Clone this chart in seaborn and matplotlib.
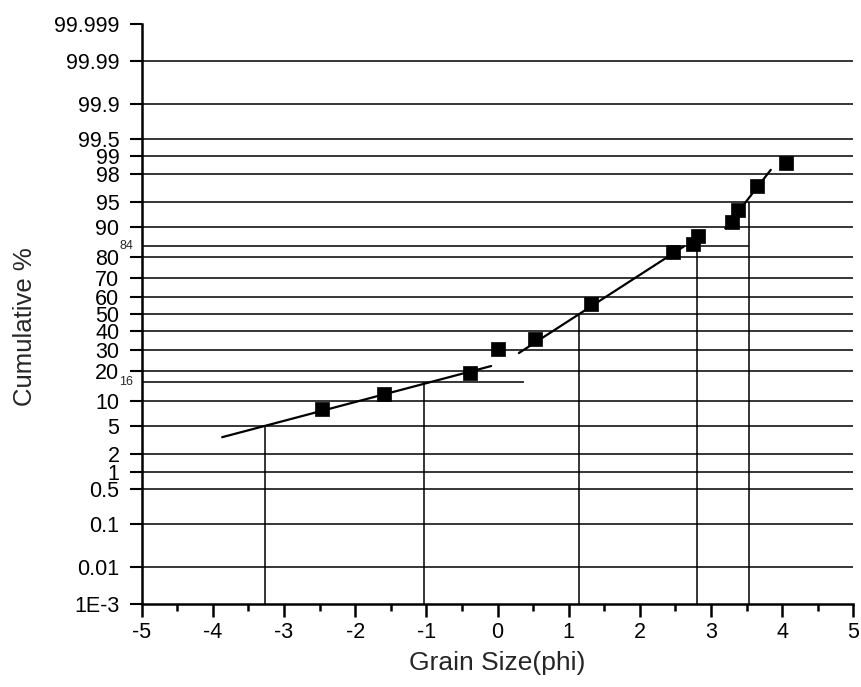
import numpy as np
import pandas as pd
import matplotlib
matplotlib.use("Agg")
import matplotlib.pyplot as plt
from matplotlib.ticker import FixedLocator, NullLocator
import seaborn as sns
from statistics import NormalDist

# Sieve data: grain size (phi) vs cumulative weight percent
grain_phi = [-2.46, -1.59, -0.38, 0.00, 0.52, 1.32, 2.46, 2.74, 2.82, 3.30, 3.38, 3.64, 4.05]
cum_pct = [8.1, 12.0, 19.4, 30.5, 35.6, 55.8, 81.8, 84.7, 87.4, 91.3, 93.6, 97.0, 98.7]

# Straight-line segments fitted to the three sub-populations
coarse_phi = [-3.87, -0.09]
coarse_pct = [3.5, 22.2]
middle_phi = [0.30, 2.62]
middle_pct = [28.3, 84.0]
fine_phi = [3.20, 3.84]
fine_pct = [89.6, 98.3]

# Percentile readings (phi5, phi16, phi50, phi84, phi95)
pctl_phi = [-3.27, -1.04, 1.15, 2.81, 3.53]
pctl_pct = [5, 16, 50, 84, 95]

# Horizontal marker lines for phi16 and phi84
mark16_end = 0.37
mark84_end = 3.53

x_ticks = [-5, -4, -3, -2, -1, 0, 1, 2, 3, 4, 5]
x_minor = [-4.5, -3.5, -2.5, -1.5, -0.5, 0.5, 1.5, 2.5, 3.5, 4.5]
y_ticks = [0.001, 0.01, 0.1, 0.5, 1, 2, 5, 10, 20, 30, 40, 50, 60, 70, 80,
           90, 95, 98, 99, 99.5, 99.9, 99.99, 99.999]
y_tick_labels = ["1E-3", "0.01", "0.1", "0.5", "1", "2", "5", "10", "20", "30",
                 "40", "50", "60", "70", "80", "90", "95", "98", "99", "99.5",
                 "99.9", "99.99", "99.999"]
grid_levels = [0.01, 0.1, 0.5, 1, 2, 5, 10, 20, 30, 40, 50, 60, 70, 80,
               90, 95, 98, 99, 99.5, 99.9, 99.99]

sns.set_style("ticks")
plt.rcParams["font.family"] = ["Liberation Sans", "DejaVu Sans"]

_nd = NormalDist()


def probit(p):
    p = np.clip(np.asarray(p, dtype=float) / 100.0, 1e-12, 1 - 1e-12)
    return np.vectorize(_nd.inv_cdf, otypes=[float])(p)


def inv_probit(z):
    z = np.asarray(z, dtype=float)
    return np.vectorize(_nd.cdf, otypes=[float])(z) * 100.0


fig = plt.figure(figsize=(8.61, 6.87), dpi=100)
ax = fig.add_axes([0.1646, 0.1208, 0.8265, 0.8443])
ax.set_yscale("function", functions=(probit, inv_probit))
ax.set_xlim(-5, 5)
ax.set_ylim(0.001, 99.999)

# probability grid
ax.hlines(grid_levels, -5, 5, colors="black", linewidth=1.1, zorder=1)
ax.hlines([16], -5, mark16_end, colors="black", linewidth=1.1, zorder=1)
ax.hlines([84], -5, mark84_end, colors="black", linewidth=1.1, zorder=1)

# percentile drop lines to the grain-size axis
ax.vlines(pctl_phi, 0.001, pctl_pct, colors="black", linewidth=1.1, zorder=2)

# fitted segments
for xs, ys in [(coarse_phi, coarse_pct), (middle_phi, middle_pct), (fine_phi, fine_pct)]:
    sns.lineplot(x=xs, y=ys, ax=ax, color="black", linewidth=1.6,
                 sort=False, estimator=None, zorder=3)

df = pd.DataFrame({"phi": grain_phi, "pct": cum_pct})
sns.scatterplot(data=df, x="phi", y="pct", ax=ax, marker="s", s=92,
                color="black", edgecolor="black", linewidth=0.5, zorder=4)

ax.yaxis.set_major_locator(FixedLocator(y_ticks))
ax.yaxis.set_minor_locator(NullLocator())
ax.set_yticklabels(y_tick_labels)
ax.xaxis.set_major_locator(FixedLocator(x_ticks))
ax.xaxis.set_minor_locator(FixedLocator(x_minor))
ax.set_xticklabels([str(v) for v in x_ticks])

ax.tick_params(axis="y", which="major", direction="out", length=9, width=1.5,
               labelsize=15.5, pad=7, colors="black")
ax.tick_params(axis="x", which="major", direction="out", length=9, width=1.8,
               labelsize=15.5, pad=4, colors="black")
ax.tick_params(axis="x", which="minor", direction="out", length=5, width=1.8,
               colors="black")

for side in ["top", "right"]:
    ax.spines[side].set_visible(False)
for side in ["left", "bottom"]:
    ax.spines[side].set_linewidth(1.8)
    ax.spines[side].set_color("black")

ax.set_xlabel("Grain Size(phi)", fontsize=19, labelpad=6)
ax.set_ylabel("Cumulative %", fontsize=18.5)
ax.yaxis.set_label_coords(-0.147, 0.478)

# small labels for the 84 and 16 marker lines
for v in (84, 16):
    ax.annotate(str(v), xy=(0, v), xycoords=("axes fraction", "data"),
                xytext=(-6, 0), textcoords="offset points",
                ha="right", va="center", fontsize=9)

ax.set_facecolor("white")
fig.patch.set_facecolor("white")
fig.savefig("out.png", dpi=100)
